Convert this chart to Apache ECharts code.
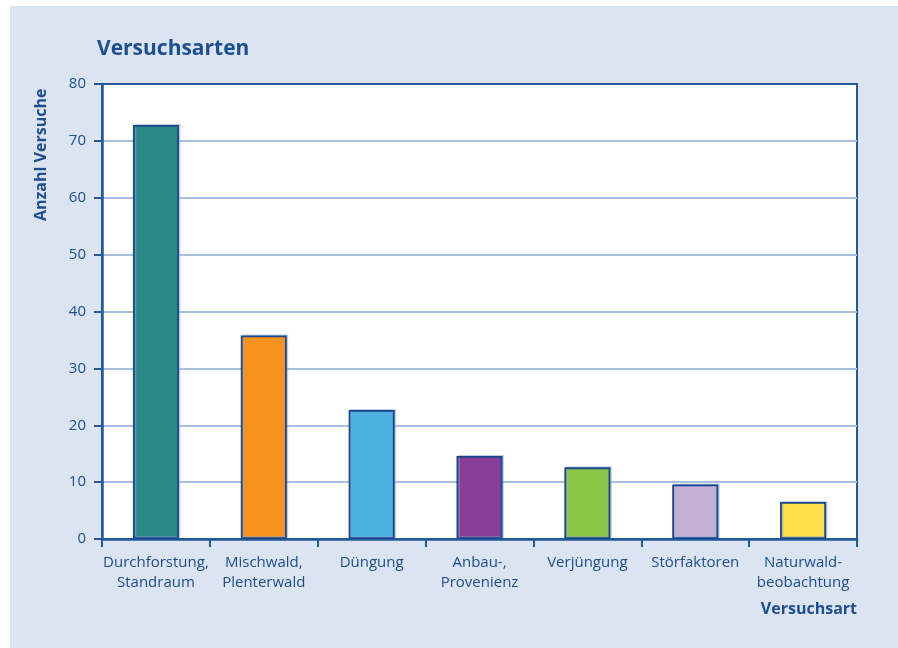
<!DOCTYPE html>
<html>
<head>
<meta charset="utf-8">
<script src="https://cdn.jsdelivr.net/npm/echarts@6/dist/echarts.min.js"></script>
<style>
html,body{margin:0;padding:0;background:#ffffff;}
#c{width:898px;height:648px;}
</style>
</head>
<body>
<div id="c"></div>
<script>
const categories = ['Durchforstung,\nStandraum','Mischwald,\nPlenterwald','Düngung','Anbau-,\nProvenienz','Verjüngung','Störfaktoren','Naturwald-\nbeobachtung'];
const values = [72.8, 35.8, 22.7, 14.6, 12.6, 9.6, 6.5];
const barColors = ['#2a8987','#f5921e','#4db0e0','#8a3d96','#8cc646','#c5b0d5','#fedf4b'];
const yTicks = {min:0, max:80, interval:10};

const textColor = '#1b4f8f';
const axisColor = '#22599a';
const fontFam = '"Open Sans","Noto Sans",sans-serif';

const chart = echarts.init(document.getElementById('c'), null, {renderer:'canvas'});
chart.setOption({
  animation:false,
  backgroundColor:'#ffffff',
  graphic:[
    {type:'rect', z:-10, shape:{x:10,y:6,width:888,height:642}, style:{fill:'#dce3f1'}},
    {type:'text', left:97, top:39, style:{text:'Versuchsarten', fill:textColor, font:'bold 21px '+fontFam}},
    {type:'text', x:33, y:221, rotation:Math.PI/2, style:{text:'Anzahl Versuche', fill:textColor, font:'bold 16px '+fontFam, textAlign:'left', textVerticalAlign:'top'}},
    {type:'text', right:41, top:601, style:{text:'Versuchsart', fill:textColor, font:'bold 16px '+fontFam}}
  ],
  grid:{left:102, right:41, top:84, bottom:109, show:true, backgroundColor:'#ffffff', borderColor:axisColor, borderWidth:2},
  xAxis:{
    type:'category', data:categories,
    axisLine:{lineStyle:{color:axisColor, width:2.5}},
    axisTick:{show:true, interval:0, length:8, lineStyle:{color:axisColor, width:2}},
    axisLabel:{interval:0, color:textColor, fontSize:15, fontFamily:fontFam, lineHeight:20, margin:14}
  },
  yAxis:{
    type:'value', min:yTicks.min, max:yTicks.max, interval:yTicks.interval,
    axisLine:{show:true, lineStyle:{color:axisColor, width:2.5}},
    axisTick:{show:true, length:8, lineStyle:{color:axisColor, width:2}},
    axisLabel:{color:textColor, fontSize:15, fontFamily:fontFam, margin:16},
    splitLine:{showMaxLine:false, showMinLine:false, lineStyle:{color:'#a8c0de', width:2}}
  },
  series:[{
    type:'bar', barWidth:46,
    data: values.map((v,i)=>({value:v, itemStyle:{color:barColors[i]}})),
    itemStyle:{borderColor:'#1a4888', borderWidth:1.8, shadowColor:'rgba(140,170,215,0.5)', shadowOffsetX:1.5, shadowOffsetY:-1, shadowBlur:0}
  }]
});
</script>
</body>
</html>
